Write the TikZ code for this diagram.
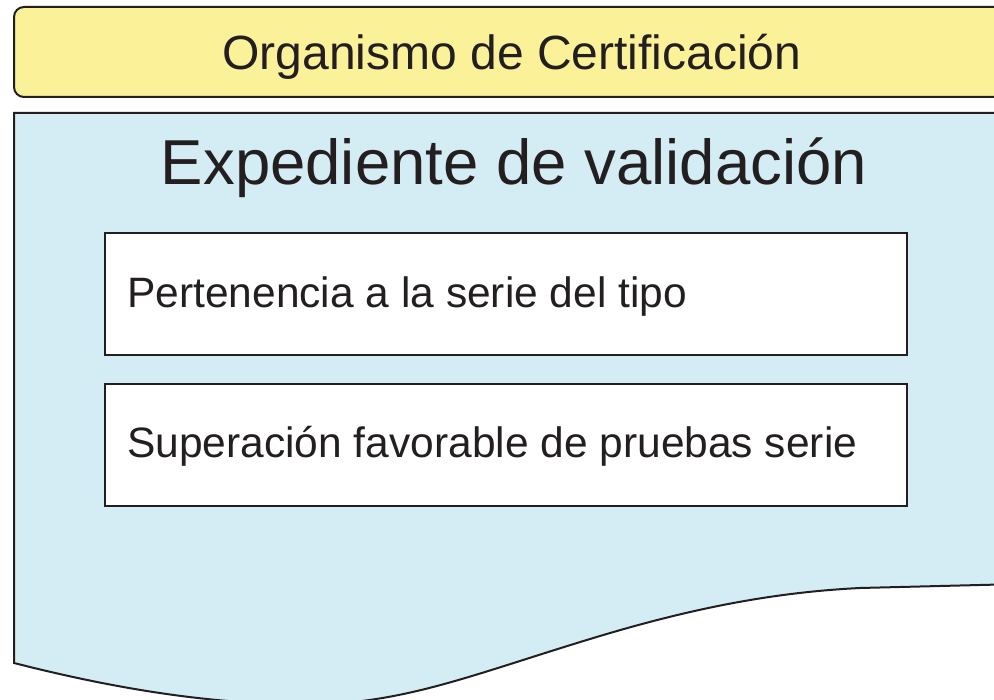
\documentclass[tikz,border=0pt]{standalone}
\usepackage{fontspec}
\setmainfont{Liberation Sans}
\definecolor{linec}{HTML}{231F20}
\definecolor{yellowf}{HTML}{FAF199}
\definecolor{bluef}{HTML}{D4EDF4}
\tikzset{
  outline/.style={draw=linec, line width=2pt},
  itembox/.style={outline, fill=white},
  itemtext/.style={anchor=base west, inner sep=0pt, font=\fontsize{42.5}{50}\selectfont, text=linec},
}
\begin{document}
\begin{tikzpicture}[x=1pt,y=-1pt]
\useasboundingbox (0,0) rectangle (994,700);
\clip (0,0) rectangle (994,700);
% yellow header
\draw[outline, fill=yellowf, rounded corners=10pt] (14,7) rectangle (1020,97);
\node[anchor=base, inner sep=0pt, font=\fontsize{48}{56}\selectfont, text=linec] (org) at (512,70) {Organismo de Certificación};
% blue document shape
\draw[outline, fill=bluef] (1020,113) -- (14,113) -- (14,663)
  .. controls (120,690) and (220,706) .. (320,704)
  .. controls (410,702) and (480,672) .. (600,636)
  .. controls (700,606) and (780,592) .. (860,588)
  -- (1020,584);
\node[anchor=base, inner sep=0pt, font=\fontsize{63.5}{70}\selectfont, text=linec] (exp) at (514,185) {Expediente de validación};
% items
\draw[itembox] (105,233) rectangle (907,355);
\node[itemtext] (t1) at (127,308) {Pertenencia a la serie del tipo};
\draw[itembox] (105,384) rectangle (907,506);
\node[itemtext] (t2) at (127,458) {Superación favorable de pruebas serie};
\end{tikzpicture}
\end{document}
